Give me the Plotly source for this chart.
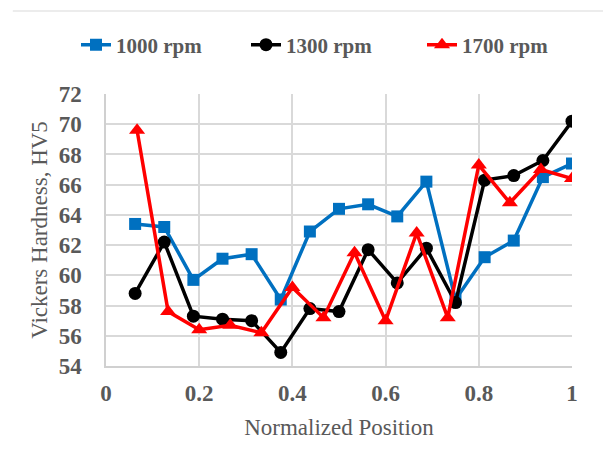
import plotly.graph_objects as go

# 1000 and 1300 rpm were measured at 16 positions, 1700 rpm at 15 positions
positions_16 = [i / 16 for i in range(1, 17)]
positions_15 = [i / 15 for i in range(1, 16)]
hv_1000 = [63.4, 63.2, 59.7, 61.1, 61.4, 58.4, 62.9, 64.4, 64.7, 63.9, 66.2, 58.4, 61.2, 62.3, 66.5, 67.4]
hv_1300 = [58.8, 62.2, 57.3, 57.1, 57.0, 54.9, 57.8, 57.6, 61.7, 59.5, 61.8, 58.2, 66.3, 66.6, 67.6, 70.2]
hv_1700 = [69.6, 57.6, 56.4, 56.7, 56.2, 59.2, 57.2, 61.5, 57.0, 62.8, 57.2, 67.3, 64.8, 67.0, 66.4]
series_names = ["1000 rpm", "1300 rpm", "1700 rpm"]

FONT = "Liberation Serif, Times New Roman, serif"
GRAY = "#595959"

fig = go.Figure()
styles = [
    ("#0070C0", "square", 12),
    ("#000000", "circle", 13),
    ("#FF0000", "triangle-up", 14),
]
legend_ids = ["legend", "legend2", "legend3"]
for name, xs, ys, (col, sym, sz), lg in zip(series_names,
                                             [positions_16, positions_16, positions_15],
                                             [hv_1000, hv_1300, hv_1700], styles, legend_ids):
    fig.add_trace(go.Scatter(
        x=xs, y=ys, name=name, mode="lines+markers",
        line=dict(color=col, width=3.5),
        marker=dict(symbol=sym, size=sz, color=col),
        legend=lg,
    ))

legend_left_px = [76, 246, 422]
legend_common = dict(
    orientation="h", xref="container", yref="container",
    xanchor="left", y=1 - 45 / 470, yanchor="middle",
    font=dict(family=FONT, size=21, color=GRAY, weight="bold"),
    bgcolor="rgba(0,0,0,0)",
)

fig.update_layout(
    width=603, height=470,
    margin=dict(l=106, r=31, t=94, b=104),
    paper_bgcolor="white", plot_bgcolor="white",
    font=dict(family=FONT, color=GRAY),
    showlegend=True,
    legend=dict(x=legend_left_px[0] / 603, **legend_common),
    legend2=dict(x=legend_left_px[1] / 603, **legend_common),
    legend3=dict(x=legend_left_px[2] / 603, **legend_common),
    xaxis=dict(
        range=[0, 1], dtick=0.2, tick0=0,
        showgrid=True, gridcolor="#D9D9D9", gridwidth=1.5,
        zeroline=False, showline=True, linecolor="#D0D0D0", linewidth=1.5,
        ticks="", tickfont=dict(family=FONT, size=23, color=GRAY, weight="bold"),
        ticklabelstandoff=6,
        title=dict(text="Normalized Position", font=dict(family=FONT, size=23, color=GRAY), standoff=14),
    ),
    yaxis=dict(
        range=[54, 72], dtick=2, tick0=54,
        showgrid=True, gridcolor="#D9D9D9", gridwidth=1.5,
        zeroline=False, showline=True, linecolor="#D0D0D0", linewidth=1.5,
        ticks="", tickfont=dict(family=FONT, size=23, color=GRAY, weight="bold"),
        ticklabelstandoff=18,
        title=dict(text="Vickers Hardness, HV5", font=dict(family=FONT, size=23, color=GRAY), standoff=5),
    ),
    shapes=[dict(type="line", xref="paper", yref="paper", x0=-0.2, x1=1.1,
                 y0=1 + 83 / 272, y1=1 + 83 / 272, line=dict(color="#D9D9D9", width=1))],
)

fig.write_html("out.html")
